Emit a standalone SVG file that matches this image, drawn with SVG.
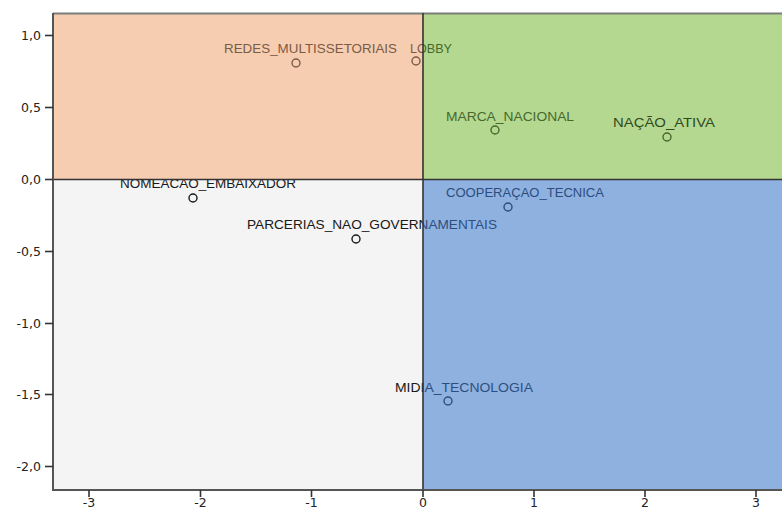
<svg xmlns="http://www.w3.org/2000/svg" width="782" height="510" viewBox="0 0 782 510">
<style>
.lbl{font-family:"Liberation Sans",Arial,sans-serif;font-size:13px}
.tick{font-family:"DejaVu Sans",sans-serif;font-size:12.5px;fill:#222}
.pt{fill:none;stroke-width:1.4}
.brown{fill:#7a5b45}.green{fill:#46682a}.blue{fill:#2c4d7f}.black{fill:#1a1a1a}
</style>
<defs>
<linearGradient id="gLobby" gradientUnits="userSpaceOnUse" x1="0" y1="0" x2="782" y2="0">
<stop offset="0.5409" stop-color="#7a5b45"/><stop offset="0.5409" stop-color="#46682a"/>
</linearGradient>
<linearGradient id="gLow" gradientUnits="userSpaceOnUse" x1="0" y1="0" x2="782" y2="0">
<stop offset="0.5409" stop-color="#1a1a1a"/><stop offset="0.5409" stop-color="#2c4d7f"/>
</linearGradient>
</defs>
<rect width="782" height="510" fill="#ffffff"/>
<g id="quadrants">
<rect x="53" y="13" width="370" height="167" fill="#f6cdb1"/>
<rect x="423" y="13" width="359" height="167" fill="#b5d891"/>
<rect x="53" y="180" width="370" height="310" fill="#f4f4f4"/>
<rect x="423" y="180" width="359" height="310" fill="#8fb1df"/>
</g>
<g id="points">
<g id="redes"><text class="lbl brown" x="224" y="53" textLength="173" lengthAdjust="spacingAndGlyphs">REDES_MULTISSETORIAIS</text><circle class="pt" cx="296" cy="63" r="4" stroke="#7a5b45"/></g>
<g id="lobby"><text class="lbl" fill="url(#gLobby)" x="410" y="53" textLength="42" lengthAdjust="spacingAndGlyphs">LOBBY</text><circle class="pt" cx="416" cy="61" r="4" stroke="#7a5b45"/></g>
<g id="marca"><text class="lbl green" x="446" y="121" textLength="128" lengthAdjust="spacingAndGlyphs">MARCA_NACIONAL</text><circle class="pt" cx="495" cy="130" r="4" stroke="#46682a"/></g>
<g id="nacao"><text class="lbl green" x="613" y="127" textLength="102" lengthAdjust="spacingAndGlyphs" style="fill:#2f4a1c">NAÇÃO_ATIVA</text><circle class="pt" cx="667" cy="137" r="4" stroke="#46682a"/></g>
<g id="cooperacao"><text class="lbl blue" x="446" y="197" textLength="158" lengthAdjust="spacingAndGlyphs">COOPERAÇAO_TECNICA</text><circle class="pt" cx="508" cy="207" r="4" stroke="#2c4d7f"/></g>
<g id="nomeacao"><text class="lbl black" x="120" y="188" textLength="176" lengthAdjust="spacingAndGlyphs">NOMEACAO_EMBAIXADOR</text><circle class="pt" cx="193" cy="198" r="4" stroke="#1a1a1a"/></g>
<g id="parcerias"><text class="lbl" fill="url(#gLow)" x="247" y="229" textLength="250" lengthAdjust="spacingAndGlyphs">PARCERIAS_NAO_GOVERNAMENTAIS</text><circle class="pt" cx="356" cy="239" r="4" stroke="#1a1a1a"/></g>
<g id="midia"><text class="lbl" fill="url(#gLow)" x="395" y="392" textLength="138" lengthAdjust="spacingAndGlyphs">MIDIA_TECNOLOGIA</text><circle class="pt" cx="448" cy="401" r="4" stroke="#2c4d7f"/></g>
</g>
<g id="axes" stroke="#333" fill="none">
<line x1="53" y1="13.5" x2="782" y2="13.5" stroke="#7a7f7a" stroke-width="2"/>
<line x1="423" y1="13" x2="423" y2="490" stroke-width="1.6"/>
<line x1="53" y1="179.5" x2="782" y2="179.5" stroke-width="1.6"/>
<line x1="53" y1="13" x2="53" y2="491" stroke="#555" stroke-width="2"/>
<line x1="52" y1="490" x2="782" y2="490" stroke="#555" stroke-width="2"/>
<g stroke="#333" stroke-width="1.6">
<line x1="45" y1="35.5" x2="53" y2="35.5"/>
<line x1="45" y1="107.5" x2="53" y2="107.5"/>
<line x1="45" y1="179.5" x2="53" y2="179.5"/>
<line x1="45" y1="251.5" x2="53" y2="251.5"/>
<line x1="45" y1="323.5" x2="53" y2="323.5"/>
<line x1="45" y1="394.5" x2="53" y2="394.5"/>
<line x1="45" y1="466.5" x2="53" y2="466.5"/>
<line x1="89" y1="490" x2="89" y2="497"/>
<line x1="200.5" y1="490" x2="200.5" y2="497"/>
<line x1="311.5" y1="490" x2="311.5" y2="497"/>
<line x1="423" y1="490" x2="423" y2="497"/>
<line x1="534" y1="490" x2="534" y2="497"/>
<line x1="645" y1="490" x2="645" y2="497"/>
<line x1="756" y1="490" x2="756" y2="497"/>
</g>
</g>
<g id="ylabels" text-anchor="end">
<text class="tick" x="41" y="40">1,0</text>
<text class="tick" x="41" y="112">0,5</text>
<text class="tick" x="41" y="184">0,0</text>
<text class="tick" x="41" y="256">-0,5</text>
<text class="tick" x="41" y="328">-1,0</text>
<text class="tick" x="41" y="399">-1,5</text>
<text class="tick" x="41" y="471">-2,0</text>
</g>
<g id="xlabels" text-anchor="middle">
<text class="tick" x="89" y="507">-3</text>
<text class="tick" x="200.5" y="507">-2</text>
<text class="tick" x="311.5" y="507">-1</text>
<text class="tick" x="423" y="507">0</text>
<text class="tick" x="534" y="507">1</text>
<text class="tick" x="645" y="507">2</text>
<text class="tick" x="756" y="507">3</text>
</g>
</svg>
